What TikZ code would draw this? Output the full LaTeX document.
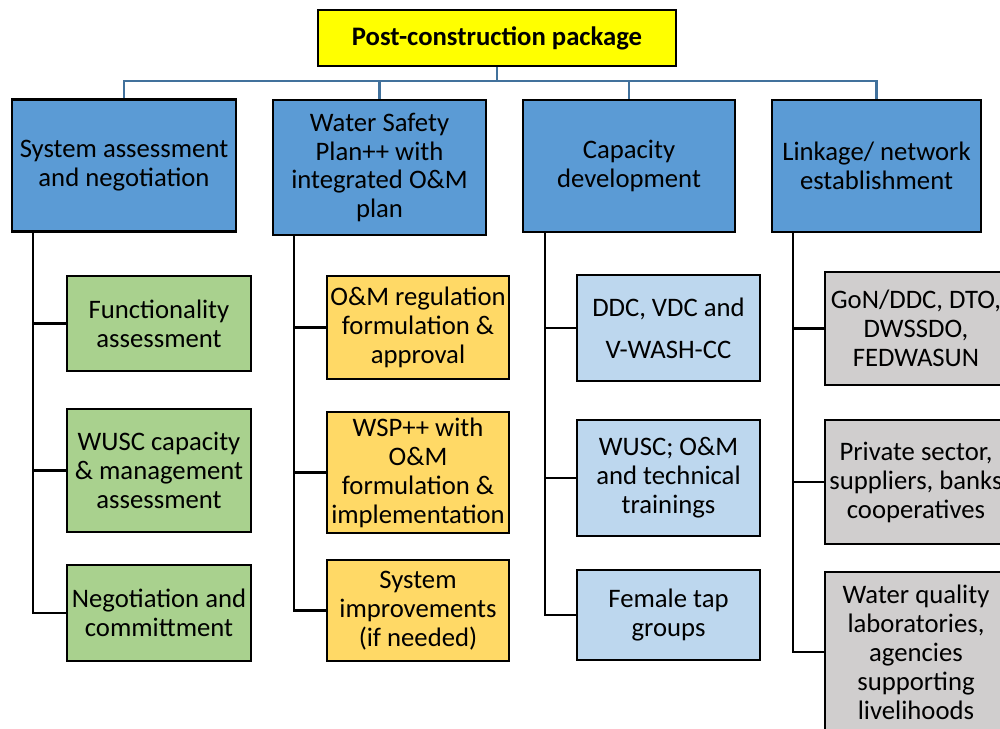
\documentclass[tikz,border=0pt]{standalone}
\usepackage{fontspec}
\setmainfont{Carlito}
\usetikzlibrary{positioning}
\definecolor{topfill}{HTML}{FFFF00}
\definecolor{headfill}{HTML}{5B9BD5}
\definecolor{greenfill}{HTML}{A9D18E}
\definecolor{goldfill}{HTML}{FFD966}
\definecolor{palefill}{HTML}{BDD7EE}
\definecolor{greyfill}{HTML}{D0CECE}
\definecolor{busblue}{HTML}{41719C}
\newcommand{\boxfont}{\fontsize{15.2}{16.5}\selectfont}
\tikzset{box/.style={draw,line width=1.5pt,align=center,inner sep=1pt,font=\boxfont},
  topbox/.style={box,fill=topfill,font=\boxfont\bfseries,minimum width=7.16cm,minimum height=1.12cm},
  headbox/.style={box,fill=headfill,minimum height=2.64cm},
  greenbox/.style={box,fill=greenfill,minimum width=3.68cm},
  goldbox/.style={box,fill=goldfill,minimum width=3.64cm},
  palebox/.style={box,fill=palefill,minimum width=3.66cm},
  greybox/.style={box,fill=greyfill,minimum width=3.64cm},
  bus/.style={draw=busblue,line width=1.3pt},
  link/.style={draw,line width=1.3pt}}

\begin{document}
\begin{tikzpicture}[x=0.02cm,y=-0.02cm]
\clip (0,0) rectangle (1000,729);
\fill[white] (0,0) rectangle (1000,729);
\node[topbox] (top) at (497,38) {Post-construction package};
% first level
\node[headbox,minimum width=4.48cm] (sysA) at (124,165.5) {System assessment\\and negotiation};
\node[headbox,minimum width=4.26cm,minimum height=2.7cm] (wspB) at (379.5,167.5) {Water Safety\\Plan++ with\\integrated O\&M\\plan};
\node[headbox,minimum width=4.24cm] (capC) at (629,166) {Capacity\\development};
\node[headbox,minimum width=4.18cm] (netD) at (876.5,166) {Linkage/ network\\establishment};
\draw[bus] (top.south) -- ++(0,14) coordinate (hub);
\draw[bus] (hub) -| (sysA.north);
\draw[bus] (hub) -| (wspB.north);
\draw[bus] (hub) -| (capC.north);
\draw[bus] (hub) -| (netD.north);
% system assessment
\node[greenbox,minimum height=1.9cm] (fa1) at (159,323.5) {Functionality\\assessment};
\node[greenbox,minimum height=2.46cm] (fa2) at (159,470.5) {WUSC capacity\\\& management\\assessment};
\node[greenbox,minimum height=1.92cm] (fa3) at (159,613) {Negotiation and\\committment};
% water safety plan
\node[goldbox,minimum height=2.06cm] (wb1) at (418,327.5) {O\&M regulation\\formulation \&\\approval};
\node[goldbox,minimum height=2.42cm] (wb2) at (418,472.5) {WSP++ with\\O\&M\\formulation \&\\implementation};
\node[goldbox,minimum height=2.02cm] (wb3) at (418,610.5) {System\\improvements\\(if needed)};
% capacity development
\node[palebox,minimum height=2.12cm] (cc1) at (668.5,328) {DDC, VDC and\\[0.26cm]V-WASH-CC};
\node[palebox,minimum height=2.32cm] (cc2) at (668.5,478) {WUSC; O\&M\\and technical\\trainings};
\node[palebox,minimum height=1.8cm] (cc3) at (668.5,615) {Female tap\\groups};
% linkage
\node[greybox,minimum height=2.26cm] (nd1) at (916,328.5) {GoN/DDC, DTO,\\DWSSDO,\\FEDWASUN};
\node[greybox,minimum height=2.48cm] (nd2) at (916,482) {Private sector,\\suppliers, banks\\cooperatives};
\node[greybox,minimum height=3.2cm] (nd3) at (916,652) {Water quality\\laboratories,\\agencies\\supporting\\livelihoods};
\coordinate (trunkA) at ([xshift=0.44cm]sysA.south west);
\coordinate (trunkB) at ([xshift=0.44cm]wspB.south west);
\coordinate (trunkC) at ([xshift=0.46cm]capC.south west);
\coordinate (trunkD) at ([xshift=0.44cm]netD.south west);
\draw[link] (trunkA) |- (fa1.west) (trunkA) |- (fa2.west) (trunkA) |- (fa3.west);
\draw[link] (trunkB) |- (wb1.west) (trunkB) |- (wb2.west) (trunkB) |- (wb3.west);
\draw[link] (trunkC) |- (cc1.west) (trunkC) |- (cc2.west) (trunkC) |- (cc3.west);
\draw[link] (trunkD) |- (nd1.west) (trunkD) |- (nd2.west) (trunkD) |- (nd3.west);
\end{tikzpicture}
\end{document}
